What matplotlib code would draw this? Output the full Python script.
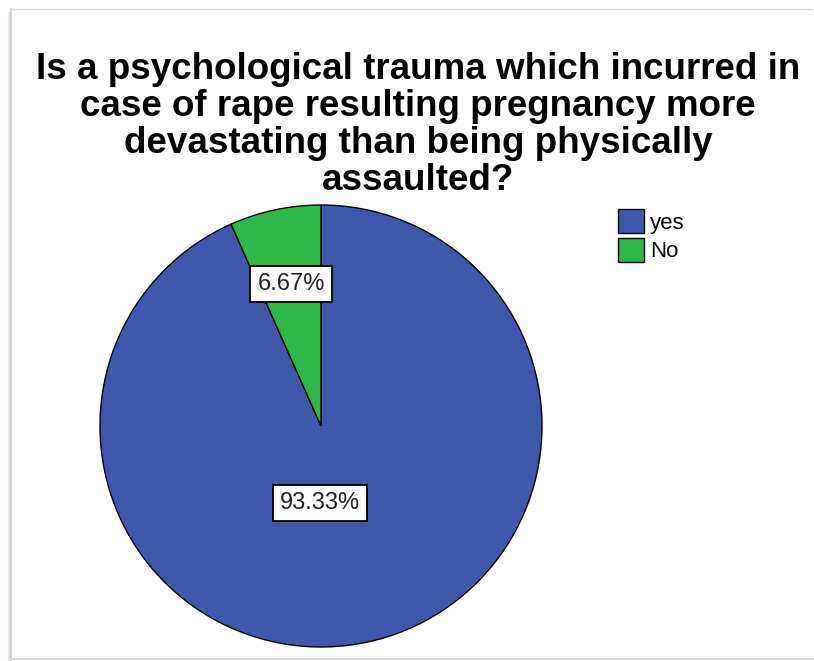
import matplotlib
matplotlib.use("Agg")
import matplotlib.pyplot as plt
import numpy as np

plt.rcParams['font.family'] = ['Liberation Sans', 'DejaVu Sans']

categories = ["yes", "No"]
percentages = [93.33, 6.67]
colors = ["#3E58AC", "#2EB848"]
title = ("Is a psychological trauma which incurred in\n"
         "case of rape resulting pregnancy more\n"
         "devastating than being physically\n"
         "assaulted?")

W, H = 814, 661
fig = plt.figure(figsize=(W / 100, H / 100), dpi=100)
fig.patch.set_facecolor("white")


def px(x, y):
    return x / W, 1 - y / H


# Frame with a soft shadow on the left side
for i, a in enumerate([0.10, 0.18, 0.28]):
    fig.add_artist(plt.Line2D([px(8 + i, 0)[0]] * 2, [px(0, 12)[1], px(0, 661)[1]],
                              color="gray", alpha=a, lw=1))
fig.add_artist(plt.Line2D([px(11, 0)[0]] * 2, [px(0, 9)[1], px(0, 661)[1]],
                          color="#c8c8c8", lw=1.2))
fig.add_artist(plt.Line2D([px(11, 0)[0], px(812, 0)[0]], [px(0, 9)[1]] * 2,
                          color="#dcdcdc", lw=1.0))
fig.add_artist(plt.Line2D([px(11, 0)[0], px(814, 0)[0]], [px(0, 659)[1]] * 2,
                          color="#dcdcdc", lw=1.5))

fig.text(px(418, 0)[0], px(0, 52)[1], title, ha="center", va="top",
         fontsize=26.5, fontweight="bold", linespacing=1.07)

# Pie axes: centre (321, 426), radius 221 px
r = 221
cx, cy = 321, 426
ax = fig.add_axes([(cx - r) / W, (H - cy - r) / H, 2 * r / W, 2 * r / H])
wedges, texts, autotexts = ax.pie(
    percentages, colors=colors, startangle=90, counterclock=False,
    autopct=lambda p: f"{p:.2f}%", pctdistance=0.5,
    wedgeprops=dict(edgecolor="black", linewidth=1.0),
    textprops=dict(fontsize=17, color="#222222"))
ax.set_xlim(-1, 1)
ax.set_ylim(-1, 1)
ax.set_aspect("equal")

label_pos = [((320 - cx) / r, (cy - 503) / r), ((291 - cx) / r, (cy - 284) / r)]
for t, pos in zip(autotexts, label_pos):
    t.set_position(pos)
    t.set_bbox(dict(boxstyle="square,pad=0.3", facecolor="white",
                    edgecolor="black", linewidth=1.3))

leg = fig.legend(wedges, categories, loc="upper left",
                 bbox_to_anchor=(px(618, 0)[0], px(0, 209)[1]),
                 frameon=False, fontsize=16, handlelength=1.15, handleheight=1.3,
                 handletextpad=0.3, labelspacing=0.18, borderaxespad=0,
                 borderpad=0)

fig.savefig("out.png", dpi=100)
